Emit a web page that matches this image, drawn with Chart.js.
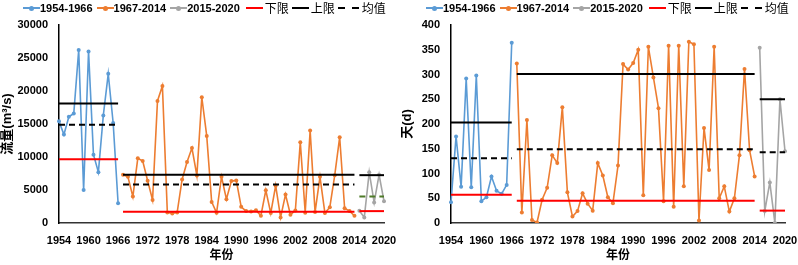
<!DOCTYPE html>
<html>
<head>
<meta charset="utf-8">
<script src="https://cdn.jsdelivr.net/npm/chart.js@4.4.0/dist/chart.umd.min.js"></script>
<style>
  body { margin: 0; background: #fff; }
  #wrap { position: relative; width: 798px; height: 265px; overflow: hidden; }
  .panel { position: absolute; top: 0; height: 265px; }
  .legend { position: absolute; top: 0; display: flex; align-items: center; height: 15px;
            font: bold 11px "Liberation Sans", Arial, sans-serif; color: #000; white-space: nowrap; }
  .legend .item { display: flex; align-items: center; margin-right: 4px; flex-shrink: 0; }
  .legend .item.cjk { margin-right: 1px; }
  .legend .swatch { position: relative; width: 17px; height: 15px; flex-shrink: 0; }
  .legend .cjk .swatch { width: 21px; }
  .legend .ln { position: absolute; left: 0; right: 0; top: 7px; height: 2px; }
  .legend .cjk .ln { left: 2px; right: 2px; }
  .legend .dot { position: absolute; left: 6px; top: 5.5px; width: 5px; height: 5px; border-radius: 50%; }
  .legend .cjk span { font: 12px "Noto Sans CJK SC", sans-serif; }
</style>
</head>
<body>
<div id="wrap">
  <div class="panel" style="left:0;width:400px">
    <canvas id="flowChart" width="400" height="265"></canvas>
    <div class="legend" id="flowLegend" style="left:23px"></div>
  </div>
  <div class="panel" style="left:400px;width:398px">
    <canvas id="daysChart" width="398" height="265"></canvas>
    <div class="legend" id="daysLegend" style="left:26px"></div>
  </div>
</div>
<script>
const firstYear = 1954;
const lastYear = 2020;
const years = [];
for (let y = firstYear; y <= lastYear; y++) years.push(String(y));

const periods = ['1954-1966', '1967-2014', '2015-2020'];
const periodStart = [1954, 1967, 2015];
const periodColors = ['#5B9BD5', '#ED7D31', '#A5A5A5'];

// 流量 (m3/s)
const flow1 = [15400, 13400, 16100, 16600, 26200, 5000, 26000, 10350, 7700, 16300, 22600, 15150, 3000];
const flow2 = [7300, 7000, 4000, 9800, 9400, 6400, 3500, 18500, 20750, 1600, 1450, 1600, 6600, 9250, 11350, 7200,
               19050, 13200, 3200, 1550, 7000, 3600, 6350, 6450, 2450, 1800, 1750, 1950, 1100, 4950, 1500, 5650,
               850, 4300, 1250, 1900, 12250, 1550, 14000, 1650, 7000, 1500, 2400, 7250, 13000, 2250, 1800, 1100];
const flow3 = [1850, 850, 7700, 3100, 7300, 3300];
const flowLower = [9650, 1700, 1800];
const flowUpper = [18100, 7300, 7250];
const flowMean = [14900, 5850, 4000];

// 天 (d)
const days1 = [42, 175, 73, 292, 72, 298, 44, 52, 94, 65, 59, 77, 364];
const days2 = [322, 21, 208, 6, 1, 47, 71, 137, 121, 234, 62, 13, 24, 60, 39, 25, 121, 96, 52, 40, 116, 321,
               310, 323, 350, 56, 356, 294, 232, 44, 358, 33, 358, 74, 366, 361, 5, 192, 107, 356, 50, 74, 23,
               50, 137, 311, 147, 94];
const days3 = [354, 24, 82, 0, 250, 145];
const daysLower = [57, 45, 25];
const daysUpper = [203, 301, 250];
const daysMean = [131, 149, 143];

const latin = '"Liberation Sans", Arial, "Noto Sans CJK SC", sans-serif';

function pad(start, values) {
    const arr = years.map(() => null);
    values.forEach((v, k) => { arr[start - firstYear + k] = v; });
    return arr;
}

function flat(start, count, value) {
    const arr = years.map(() => null);
    for (let k = 0; k < count; k++) arr[start - firstYear + k] = value;
    return arr;
}

function buildLegend(id, meanColor) {
    const el = document.getElementById(id);
    let html = '';
    periods.forEach((p, i) => {
        html += `<div class="item"><div class="swatch"><div class="ln" style="background:${periodColors[i]}"></div>
                 <div class="dot" style="background:${periodColors[i]}"></div></div><span>${p}</span></div>`;
    });
    html += `<div class="item cjk"><div class="swatch"><div class="ln" style="background:#FF0000"></div></div><span>下限</span></div>`;
    html += `<div class="item cjk"><div class="swatch"><div class="ln" style="background:#000"></div></div><span>上限</span></div>`;
    html += `<div class="item cjk"><div class="swatch" style="width:26px"><div class="ln" style="background:repeating-linear-gradient(90deg,${meanColor} 0 7px,transparent 7px 14px)"></div></div><span>均值</span></div>`;
    el.innerHTML = html;
}

function createChart(canvasId, series, lower, upper, mean, meanColors, yMax, yStep, yTitle, yWidth, padRight) {
    const ctx = document.getElementById(canvasId).getContext('2d');
    const datasets = [];

    series.forEach((values, i) => {
        const start = periodStart[i];
        const n = values.length;
        datasets.push({ label: '下限', data: flat(start, n, lower[i]), borderColor: '#FF0000', borderWidth: 2,
                        pointRadius: 0, order: 0 });
        datasets.push({ label: '上限', data: flat(start, n, upper[i]), borderColor: '#000', borderWidth: 2,
                        pointRadius: 0, order: 0 });
        datasets.push({ label: '均值', data: flat(start, n, mean[i]), borderColor: meanColors[i], borderWidth: 2,
                        borderDash: [6, 4], pointRadius: 0, order: 0 });
        datasets.push({
            label: periods[i],
            data: pad(start, values),
            borderColor: periodColors[i],
            backgroundColor: periodColors[i],
            borderWidth: 1.6,
            pointRadius: 2,
            pointBorderWidth: 0,
            tension: 0,
            order: 1
        });
    });

    return new Chart(ctx, {
        type: 'line',
        data: { labels: years, datasets: datasets },
        options: {
            responsive: false,
            animation: false,
            layout: { padding: { top: 25, right: padRight, left: 0, bottom: 0 } },
            plugins: { legend: { display: false }, tooltip: { enabled: false } },
            scales: {
                x: {
                    offset: false,
                    grid: { display: false, drawTicks: false },
                    border: { display: true, color: '#333', width: 1.5 },
                    ticks: {
                        autoSkip: false,
                        maxRotation: 0,
                        padding: 11,
                        color: '#000',
                        font: { family: latin, size: 11, weight: 'bold' },
                        callback: function (v) {
                            const l = this.getLabelForValue(v);
                            return (Number(l) - firstYear) % 6 === 0 ? l : '';
                        }
                    },
                    title: { display: true, text: '年份', color: '#000',
                             font: { family: latin, size: 12, weight: 'bold' }, padding: { top: 0, bottom: 2 } },
                    afterFit: (s) => { s.height = 42; s.paddingRight = 0; s.paddingLeft = 0; }
                },
                y: {
                    min: 0,
                    max: yMax,
                    grid: { display: false, drawTicks: false },
                    border: { display: true, color: '#000', width: 1.5 },
                    ticks: { stepSize: yStep, padding: 11, color: '#000',
                             font: { family: latin, size: 11, weight: 'bold' },
                             callback: (v) => String(v) },
                    title: { display: true, text: yTitle, color: '#000',
                             font: { family: latin, size: 13, weight: 'bold' }, padding: 0 },
                    afterFit: (s) => { s.width = yWidth; }
                }
            }
        }
    });
}

buildLegend('flowLegend', '#000');
buildLegend('daysLegend', '#000');
createChart('flowChart', [flow1, flow2, flow3], flowLower, flowUpper, flowMean, ['#000', '#000', '#4E7A28'],
            30000, 5000, '流量(m³/s)', 59, 16);
createChart('daysChart', [days1, days2, days3], daysLower, daysUpper, daysMean, ['#000', '#000', '#000'],
            400, 50, '天(d)', 51, 13);
</script>
</body>
</html>
